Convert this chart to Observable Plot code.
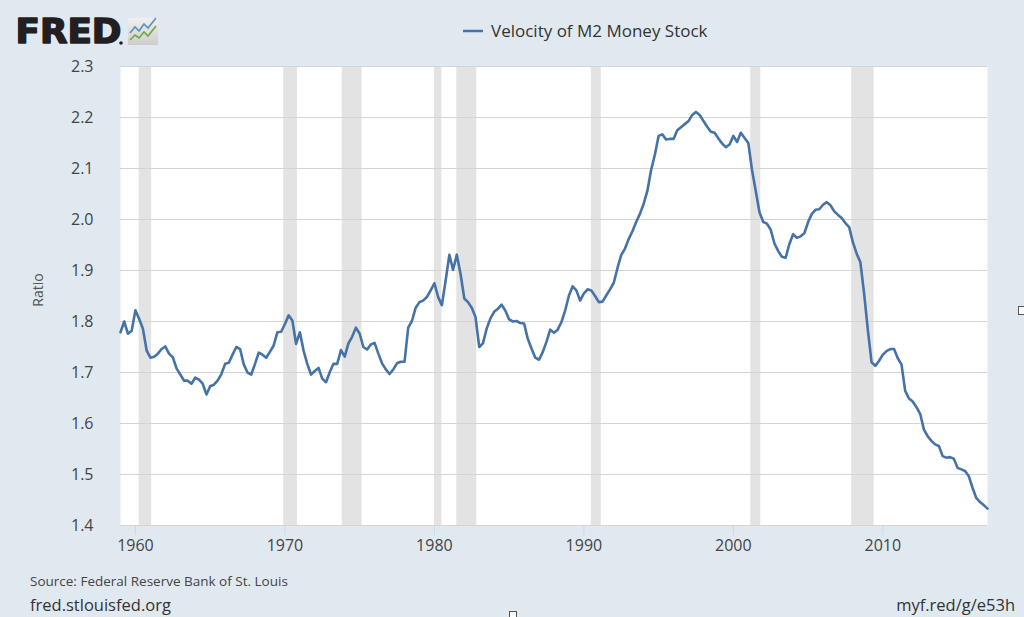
<!DOCTYPE html>
<html>
<head>
<meta charset="utf-8">
<script src="https://cdn.jsdelivr.net/npm/d3@7"></script>
<script src="https://cdn.jsdelivr.net/npm/@observablehq/plot@0.6"></script>
<style>
  html, body { margin: 0; padding: 0; background: #e1e9f0; }
  #wrap { position: relative; width: 1024px; height: 617px; background: #e1e9f0; overflow: hidden; }
  #chart { position: absolute; left: 0; top: 56px; }
  #overlay { position: absolute; left: 0; top: 0; pointer-events: none; }
</style>
</head>
<body>
<div id="wrap">
  <div id="chart"></div>
  <svg id="overlay" width="1024" height="617" xmlns="http://www.w3.org/2000/svg">
    <defs>
      <linearGradient id="ig" x1="0" y1="0" x2="0" y2="1">
        <stop offset="0" stop-color="#f0f0f0"/>
        <stop offset="1" stop-color="#cdcdcd"/>
      </linearGradient>
    </defs>
    <text x="15.5" y="43" font-family="'DejaVu Sans', sans-serif" font-weight="bold" font-size="33" textLength="106" lengthAdjust="spacingAndGlyphs" fill="#231f20" stroke="#231f20" stroke-width="1.5" stroke-linejoin="round">FRED</text>
    <circle cx="121" cy="43" r="1.8" fill="#231f20"/>
    <rect x="128" y="18" width="30" height="27" fill="url(#ig)"/>
    <polyline points="130,33 135,27 139,31 144,24 148,28 156,18" fill="none" stroke="#5b8fbf" stroke-width="1.6"/>
    <polyline points="130,40 135,35 139,38 144,32 148,36 156,26" fill="none" stroke="#6aab3c" stroke-width="1.6"/>
    <line x1="463" y1="31" x2="483" y2="31" stroke="#4572a7" stroke-width="2.5"/>
    <text id="legendText" x="491" y="37" font-family="'Open Sans', sans-serif" font-size="17" fill="#333"></text>
    <text id="ratioLabel" transform="translate(42.5,290) rotate(-90)" text-anchor="middle" font-family="'Open Sans', sans-serif" font-size="14" fill="#555"></text>
    <text x="30" y="585.5" font-family="'Open Sans', sans-serif" font-size="13.5" fill="#444">Source: Federal Reserve Bank of St. Louis</text>
    <text x="30" y="610.5" font-family="'Open Sans', sans-serif" font-size="16.5" fill="#333">fred.stlouisfed.org</text>
    <text x="1015" y="610.5" text-anchor="end" font-family="'Open Sans', sans-serif" font-size="16.5" fill="#333">myf.red/g/e53h</text>
    <rect x="1018.5" y="306.5" width="7" height="8" fill="#fff" stroke="#555" stroke-width="1"/>
    <rect x="509.5" y="611.5" width="7" height="8" fill="#fff" stroke="#555" stroke-width="1"/>
  </svg>
</div>
<script>
// Quarterly series, first value is 1959 Q1
const startYear = 1959;
const velocity = [
  1.779, 1.800, 1.776, 1.782, // 1959
  1.822, 1.805, 1.786, 1.743, // 1960
  1.729, 1.731, 1.737, 1.746, // 1961
  1.751, 1.737, 1.730, 1.708, // 1962
  1.696, 1.684, 1.684, 1.678, // 1963
  1.690, 1.686, 1.678, 1.657, // 1964
  1.673, 1.676, 1.684, 1.697, // 1965
  1.717, 1.719, 1.735, 1.750, // 1966
  1.746, 1.716, 1.700, 1.696, // 1967
  1.717, 1.739, 1.735, 1.729, // 1968
  1.741, 1.753, 1.779, 1.780, // 1969
  1.795, 1.812, 1.802, 1.756, // 1970
  1.779, 1.743, 1.717, 1.696, // 1971
  1.703, 1.709, 1.688, 1.681, // 1972
  1.701, 1.717, 1.717, 1.744, // 1973
  1.731, 1.757, 1.770, 1.788, // 1974
  1.776, 1.750, 1.745, 1.755, // 1975
  1.758, 1.737, 1.718, 1.706, // 1976
  1.697, 1.706, 1.718, 1.721, // 1977
  1.721, 1.788, 1.801, 1.827, // 1978
  1.838, 1.841, 1.848, 1.861, // 1979
  1.875, 1.848, 1.832, 1.880, // 1980
  1.931, 1.901, 1.931, 1.893, // 1981
  1.845, 1.838, 1.827, 1.809, // 1982
  1.750, 1.757, 1.786, 1.806, // 1983
  1.819, 1.825, 1.833, 1.821, // 1984
  1.804, 1.800, 1.801, 1.797, // 1985
  1.796, 1.766, 1.747, 1.729, // 1986
  1.725, 1.740, 1.760, 1.784, // 1987
  1.778, 1.784, 1.799, 1.822, // 1988
  1.851, 1.869, 1.861, 1.841, // 1989
  1.855, 1.863, 1.861, 1.850, // 1990
  1.838, 1.839, 1.851, 1.863, // 1991
  1.876, 1.905, 1.930, 1.943, // 1992
  1.962, 1.977, 1.995, 2.011, // 1993
  2.031, 2.056, 2.097, 2.127, // 1994
  2.164, 2.167, 2.157, 2.158, // 1995
  2.158, 2.175, 2.181, 2.187, // 1996
  2.193, 2.205, 2.211, 2.205, // 1997
  2.193, 2.182, 2.172, 2.170, // 1998
  2.159, 2.149, 2.142, 2.147, // 1999
  2.164, 2.152, 2.170, 2.160, // 2000
  2.150, 2.097, 2.056, 2.014, // 2001
  1.995, 1.992, 1.980, 1.953, // 2002
  1.938, 1.927, 1.925, 1.952, // 2003
  1.971, 1.964, 1.967, 1.973, // 2004
  1.995, 2.011, 2.019, 2.020, // 2005
  2.029, 2.034, 2.028, 2.016, // 2006
  2.009, 2.003, 1.993, 1.985, // 2007
  1.955, 1.933, 1.916, 1.854, // 2008
  1.782, 1.720, 1.713, 1.723, // 2009
  1.735, 1.742, 1.746, 1.746, // 2010
  1.728, 1.716, 1.664, 1.649, // 2011
  1.643, 1.632, 1.619, 1.588, // 2012
  1.575, 1.566, 1.559, 1.556, // 2013
  1.536, 1.533, 1.534, 1.531, // 2014
  1.513, 1.510, 1.507, 1.497, // 2015
  1.474, 1.454, 1.446, 1.440, // 2016
  1.433                       // 2017
];

// NBER recession periods (shaded)
const recessionStart = ["1960-04-01", "1969-12-01", "1973-11-01", "1980-01-01", "1981-07-01", "1990-07-01", "2001-03-01", "2007-12-01"];
const recessionEnd   = ["1961-02-01", "1970-11-01", "1975-03-01", "1980-07-01", "1982-11-01", "1991-03-01", "2001-11-01", "2009-06-01"];

const yTicks = [1.4, 1.5, 1.6, 1.7, 1.8, 1.9, 2.0, 2.1, 2.2, 2.3];
const xTickYears = [1960, 1970, 1980, 1990, 2000, 2010];
const xDomain = ["1959-01-01", "2017-01-01"];
const seriesName = "Velocity of M2 Money Stock";
const yLabel = "Ratio";

document.getElementById("legendText").textContent = seriesName;
document.getElementById("ratioLabel").textContent = yLabel;

const series = velocity.map((v, i) => ({
  date: new Date(Date.UTC(startYear + Math.floor(i / 4), (i % 4) * 3, 1)),
  value: v
}));
const recessions = recessionStart.map((s, i) => ({start: new Date(s), end: new Date(recessionEnd[i])}));
const xTicks = xTickYears.map(y => new Date(Date.UTC(y, 0, 1)));

const chart = Plot.plot({
  width: 1024,
  height: 504,
  marginLeft: 120,
  marginRight: 37,
  marginTop: 10,
  marginBottom: 35,
  style: {background: "transparent", fontFamily: "'Open Sans', sans-serif", color: "#333", overflow: "visible"},
  x: {type: "utc", domain: xDomain.map(d => new Date(d))},
  y: {domain: [1.4, 2.3]},
  marks: [
    Plot.frame({fill: "#ffffff", stroke: "none"}),
    Plot.rect(recessions, {x1: "start", x2: "end", y1: 1.4, y2: 2.3, fill: "#e3e3e3"}),
    Plot.gridY(yTicks, {stroke: "#d4d4d4", strokeOpacity: 1, strokeWidth: 1}),
    Plot.lineY(series, {x: "date", y: "value", stroke: "#4572a7", strokeWidth: 2.6}),
    Plot.axisY(yTicks, {tickSize: 0, tickPadding: 27, tickFormat: d3.format(".1f"), fontSize: 16, fill: "#444", label: null}),
    Plot.axisX(xTicks, {tickSize: 10, stroke: "#ccd6eb", strokeOpacity: 1, tickPadding: 4, tickFormat: d3.utcFormat("%Y"),
      fontSize: 16, fontFamily: "'Open Sans', sans-serif", fill: "#444", label: null})
  ]
});
document.getElementById("chart").appendChild(chart);
</script>
</body>
</html>
